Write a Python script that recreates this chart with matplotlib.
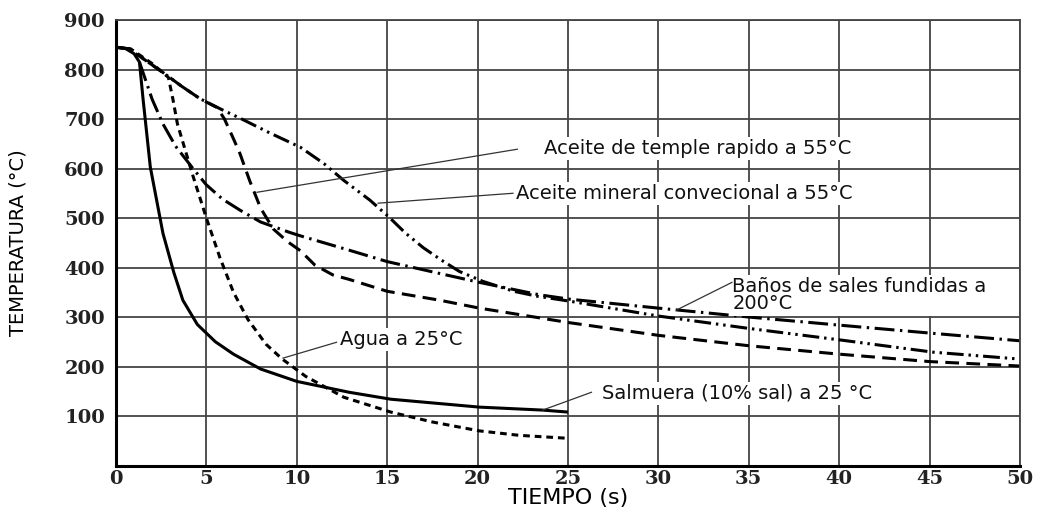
import numpy as np
import matplotlib
matplotlib.use("Agg")
import matplotlib.pyplot as plt

# cooling curves, time (s) vs temperature (C)
agua_t = [0, 0.8, 2.0, 2.9, 3.15, 3.4, 4.26, 5.0, 5.75, 6.5, 7.3, 8.3, 9.2, 10.5, 12.6, 15.2, 17.5, 20.1, 22.3, 25]
agua_T = [845, 842, 812, 784, 740, 690, 585, 500, 420, 350, 295, 245, 215, 180, 138, 108, 88, 70, 61, 55]

salmuera_t = [0, 0.5, 1.0, 1.3, 1.5, 1.9, 2.6, 3.2, 3.7, 4.5, 5.5, 6.5, 8, 10, 12.9, 15.2, 20.1, 23.6, 25]
salmuera_T = [845, 843, 832, 815, 740, 603, 469, 390, 334, 285, 250, 225, 195, 170, 148, 134, 118, 112, 108]

banos_t = [1.3, 2.0, 2.6, 3.3, 4.26, 5.0, 5.9, 6.9, 8, 9.6, 10.2, 12.9, 15, 17.9, 20.1, 23.4, 25.1, 30, 35, 40.2, 45.2, 50]
banos_T = [815, 740, 690, 645, 600, 567, 538, 515, 492, 471, 464, 435, 412, 388, 370, 345, 336, 318, 300, 283, 267, 252]

mineral_t = [0, 0.66, 1.5, 2.6, 3.6, 4.65, 5.8, 6.9, 8.5, 10.2, 11.5, 12.6, 14.05, 15.1, 16, 17, 18, 19, 20.3, 22, 23.3, 25.1, 30, 35, 40.2, 45.2, 50]
mineral_T = [845, 842, 822, 794, 767, 741, 720, 701, 672, 643, 610, 576, 536, 502, 470, 440, 415, 392, 372, 352, 342, 332, 302, 277, 253, 229, 215]

temple_t = [0, 0.66, 1.5, 2.6, 3.6, 4.65, 5.6, 6.0, 6.5, 6.86, 7.4, 8.0, 8.7, 9.5, 10.2, 11, 12, 12.9, 15, 17.9, 20.1, 25, 30, 35, 40, 45, 50]
temple_T = [845, 842, 822, 794, 767, 741, 723, 700, 660, 630, 575, 520, 478, 452, 434, 405, 385, 376, 352, 334, 318, 289, 263, 242, 225, 210, 201]

x_ticks = [0, 5, 10, 15, 20, 25, 30, 35, 40, 45, 50]
y_ticks = [100, 200, 300, 400, 500, 600, 700, 800, 900]

# label text, text position, leader start (on curve), leader end (at text)
labels = [
    ("Aceite de temple rapido a 55°C", (23.7, 641), (7.8, 552), (22.2, 639)),
    ("Aceite mineral convecional a 55°C", (22.1, 550), (14.5, 530), (21.96, 550)),
    ("Baños de sales fundidas a\n200°C", (34.1, 344), (31.0, 314), (34.07, 370)),
    ("Agua a 25°C", (12.4, 255), (9.24, 217), (12.2, 249)),
    ("Salmuera (10% sal) a 25 °C", (26.9, 146), (23.6, 112), (26.3, 148)),
]

fig = plt.figure(figsize=(10.4, 5.08), dpi=100)
ax = fig.add_axes([0.1115, 0.0836, 0.8692, 0.877])

lw = 2.2
ax.plot(salmuera_t, salmuera_T, color="black", lw=lw, solid_capstyle="butt")
ax.plot(agua_t, agua_T, color="black", lw=lw, linestyle=(0, (2.2, 1.6)))
ax.plot(temple_t, temple_T, color="black", lw=lw, linestyle=(0, (4.5, 2.4)))
ax.plot(mineral_t, mineral_T, color="black", lw=lw, linestyle=(0, (5.5, 1.6, 0.8, 1.6, 0.8, 1.6)))
ax.plot(banos_t, banos_T, color="black", lw=lw, linestyle=(0, (6.5, 1.8, 0.8, 1.8)))

for text, pos, start, end in labels:
    ax.plot([start[0], end[0]], [start[1], end[1]], color="#333333", lw=0.9, zorder=4)
    ax.text(pos[0], pos[1], text, ha="left", va="center", fontsize=14,
            family="DejaVu Sans", color="#111111", linespacing=0.9, zorder=3,
            bbox=dict(facecolor="white", edgecolor="none", pad=1.5))

ax.set_xlim(0, 50)
ax.set_ylim(0, 900)
ax.set_xticks(x_ticks)
ax.set_yticks(y_ticks)
ax.grid(True, color="#444444", lw=1.3, zorder=0)
ax.set_axisbelow(True)
ax.tick_params(length=0, pad=8)
for lab in ax.get_xticklabels() + ax.get_yticklabels():
    lab.set_family("DejaVu Serif")
    lab.set_fontweight("bold")
    lab.set_fontsize(14)
    lab.set_color("#222222")
ax.tick_params(axis="x", pad=3)

for side in ["left", "bottom"]:
    ax.spines[side].set_linewidth(2.2)
for side in ["right", "top"]:
    ax.spines[side].set_linewidth(1.3)
    ax.spines[side].set_color("#444444")

ax.set_xlabel("TIEMPO (s)", fontsize=16, family="DejaVu Sans", labelpad=0)
ax.set_ylabel("TEMPERATURA (°C)", fontsize=14, family="Liberation Sans Narrow", labelpad=26)

fig.savefig("out.png", dpi=100)
